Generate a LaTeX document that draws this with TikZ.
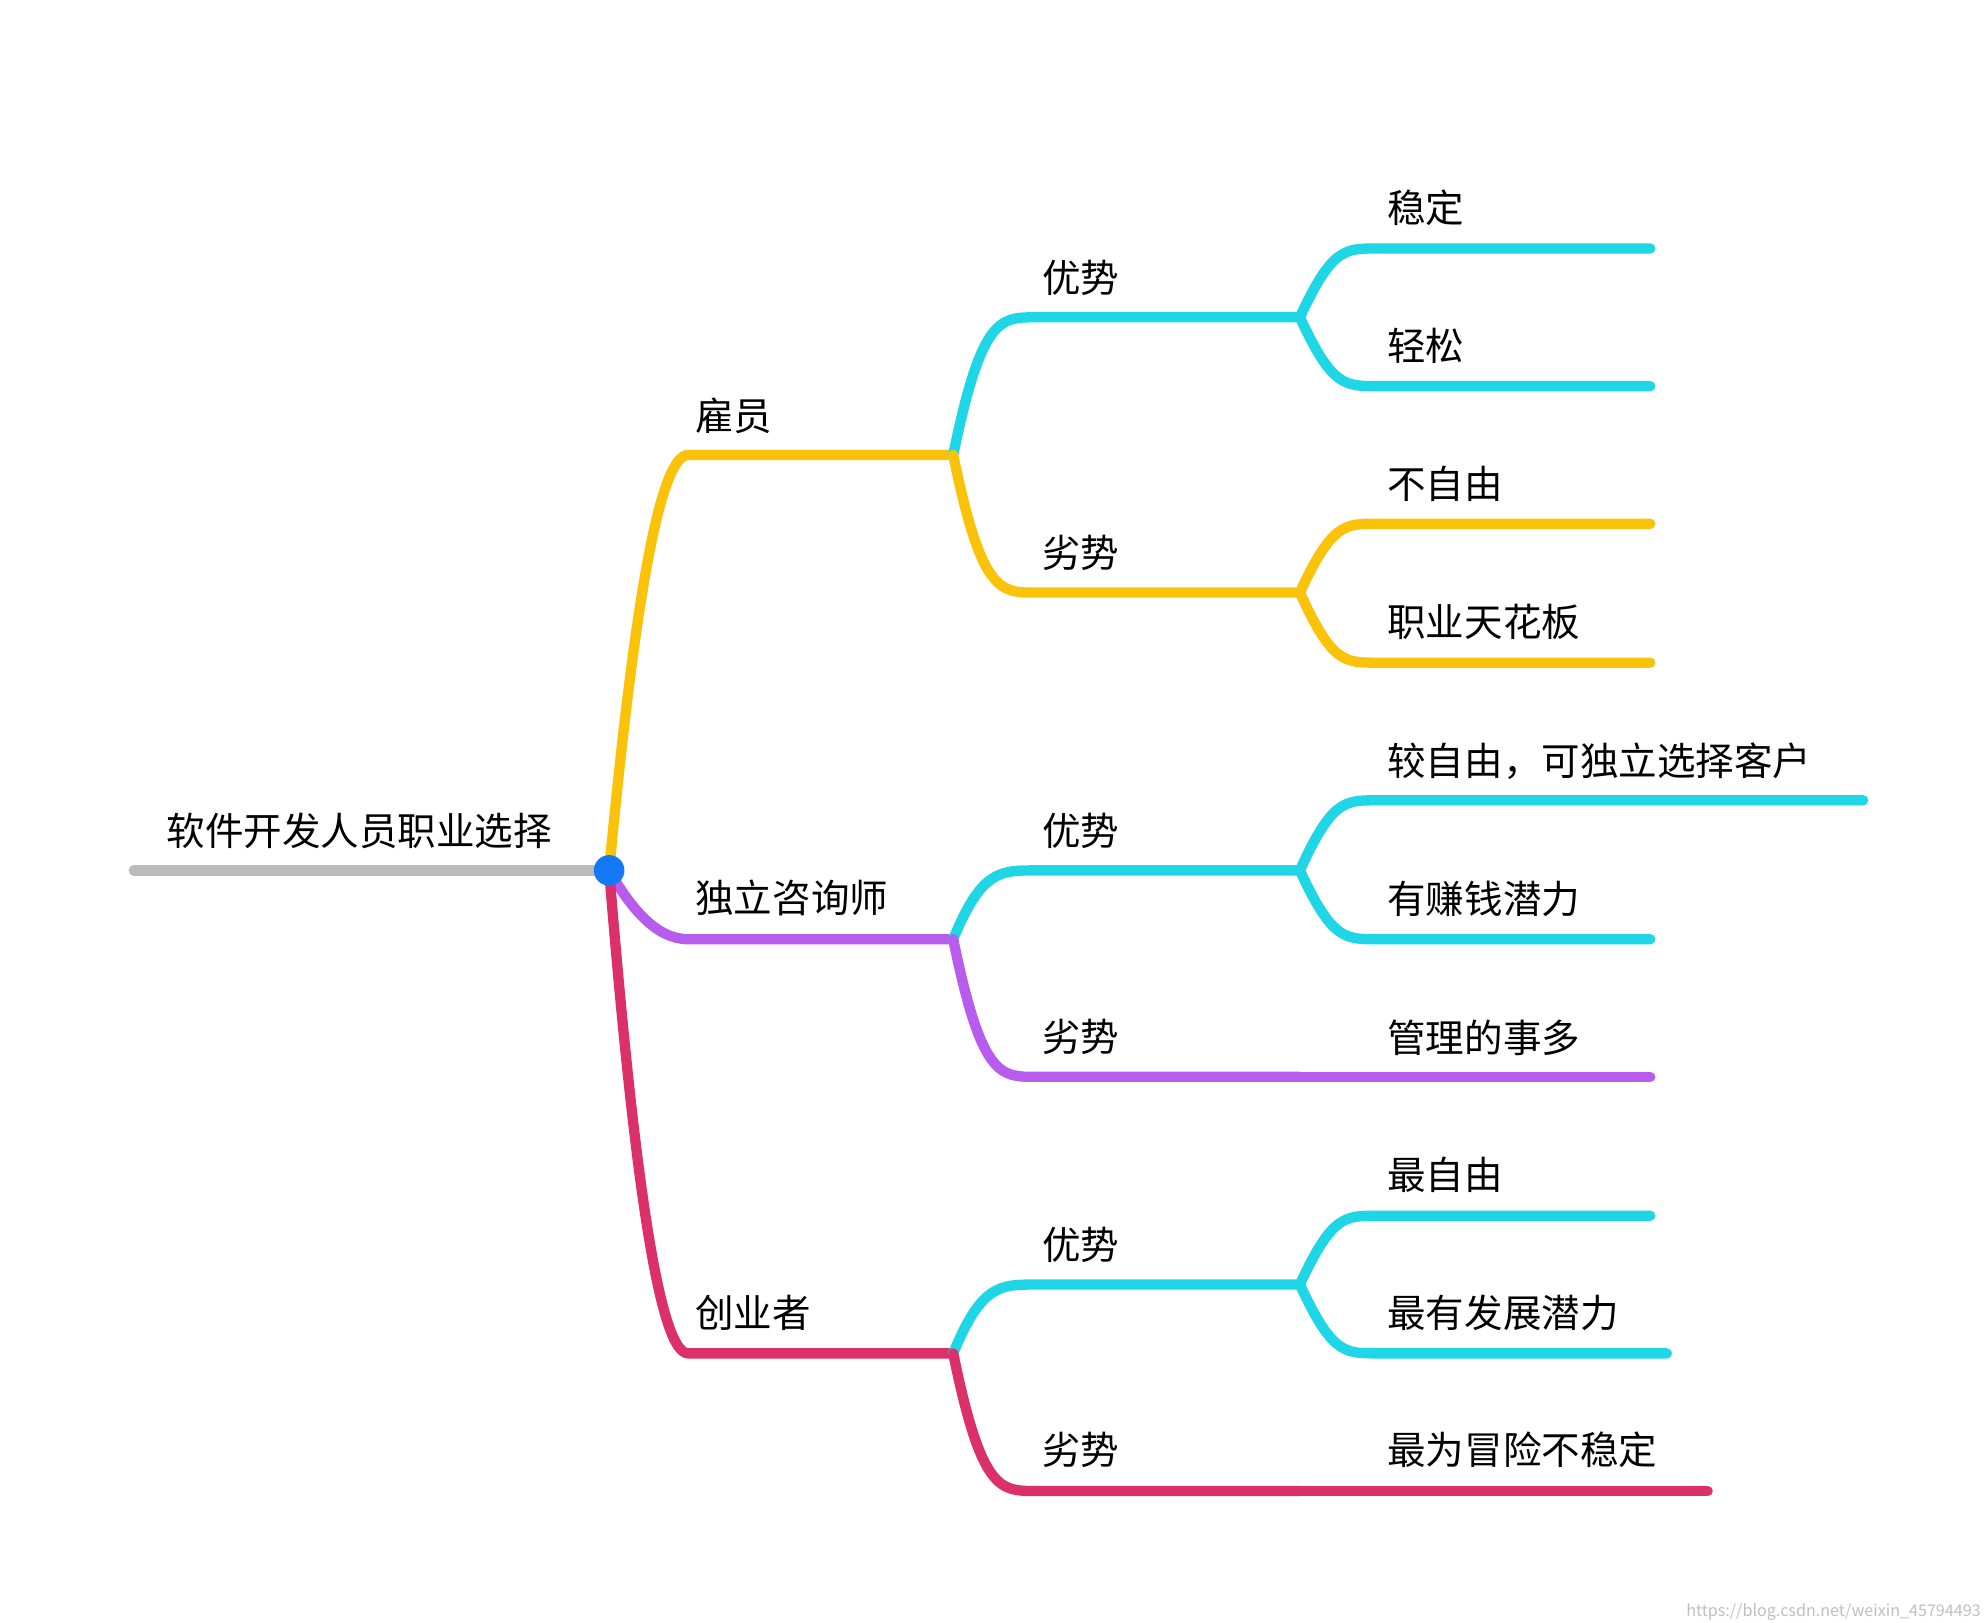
\documentclass[tikz,border=0pt]{standalone}
\usepackage{fontspec}
\setmainfont{Noto Sans CJK SC}
\begin{document}
\begin{tikzpicture}[x=0.01cm,y=-0.01cm,
  br/.style={line width=2.3pt,line cap=round},
  lab/.style={anchor=west,inner sep=0pt,font=\fontsize{8.6pt}{10pt}\selectfont}]
\definecolor{cy}{HTML}{1ED6E6}\definecolor{ye}{HTML}{FBC20A}
\definecolor{pu}{HTML}{B85CEE}\definecolor{rd}{HTML}{DC3069}
\definecolor{gr}{HTML}{BBBBBB}\definecolor{bl}{HTML}{1479F5}
\useasboundingbox (0,0) rectangle (1560,1273);
\coordinate (root) at (478,683);
\coordinate (rs) at (105,683);
\draw[br,gr] (rs) -- (root);
\node[lab] (t0) at (130,652) {软件开发人员职业选择};
% level 1
\foreach \c/\y/\n in {ye/357/a,pu/737/b,rd/1062/c}{
  \coordinate (\n1) at (540,\y); \coordinate (\n2) at (748,\y);
  \draw[br,\c] (root) .. controls (495,{683+(\y-683)*0.55}) and (515,\y) .. (\n1) -- (\n2);
}
\node[lab] at (545,326) {雇员};
\node[lab] at (545,705) {独立咨询师};
\node[lab] at (545,1030) {创业者};
% level 2
\foreach \s/\c/\y/\n in {a/cy/249/ap,a/ye/465/ad,b/cy/683/bp,b/pu/845/bd,c/cy/1008/cp,c/rd/1170/cd}{
  \coordinate (\n1) at (812,\y); \coordinate (\n2) at (1020,\y);
  \draw[br,\c] (\s2) .. controls (770,\y) and (785,\y) .. (\n1) -- (\n2);
}
\foreach \y in {218,434,652,814,977,1138}{\node[lab] at (817,\y) {\ifnum\y=434 劣势\else\ifnum\y=814 劣势\else\ifnum\y=1138 劣势\else 优势\fi\fi\fi};}
% level 3
\foreach \p/\c/\y/\e/\n in {ap/cy/195/1295/l1,ap/cy/303/1295/l2,ad/ye/411/1295/l3,ad/ye/520/1295/l4,bp/cy/628/1462/l5,bp/cy/737/1295/l6,cp/cy/954/1295/l7,cp/cy/1062/1308/l8}{
  \coordinate (\n a) at (1080,\y); \coordinate (\n b) at (\e,\y);
  \draw[br,\c] (\p2) .. controls (1045,\y) and (1055,\y) .. (\n a) -- (\n b);
}
\coordinate (l9) at (1295,845); \draw[br,pu] (bd2) -- (l9);
\coordinate (l10) at (1340,1170); \draw[br,rd] (cd2) -- (l10);
\node[lab] at (1088,163) {稳定};
\node[lab] at (1088,271) {轻松};
\node[lab] at (1088,380) {不自由};
\node[lab] at (1088,488) {职业天花板};
\node[lab] at (1088,597) {较自由，可独立选择客户};
\node[lab] at (1088,705) {有赚钱潜力};
\node[lab] at (1088,814) {管理的事多};
\node[lab] at (1088,922) {最自由};
\node[lab] at (1088,1030) {最有发展潜力};
\node[lab] at (1088,1138) {最为冒险不稳定};
\fill[bl] (root) circle (12);
\node[anchor=east,inner sep=0pt,text=black!25,font=\fontsize{3.6pt}{4pt}\selectfont] (wm) at (1555,1265) {https://blog.csdn.net/weixin\_45794493};
\end{tikzpicture}
\end{document}
